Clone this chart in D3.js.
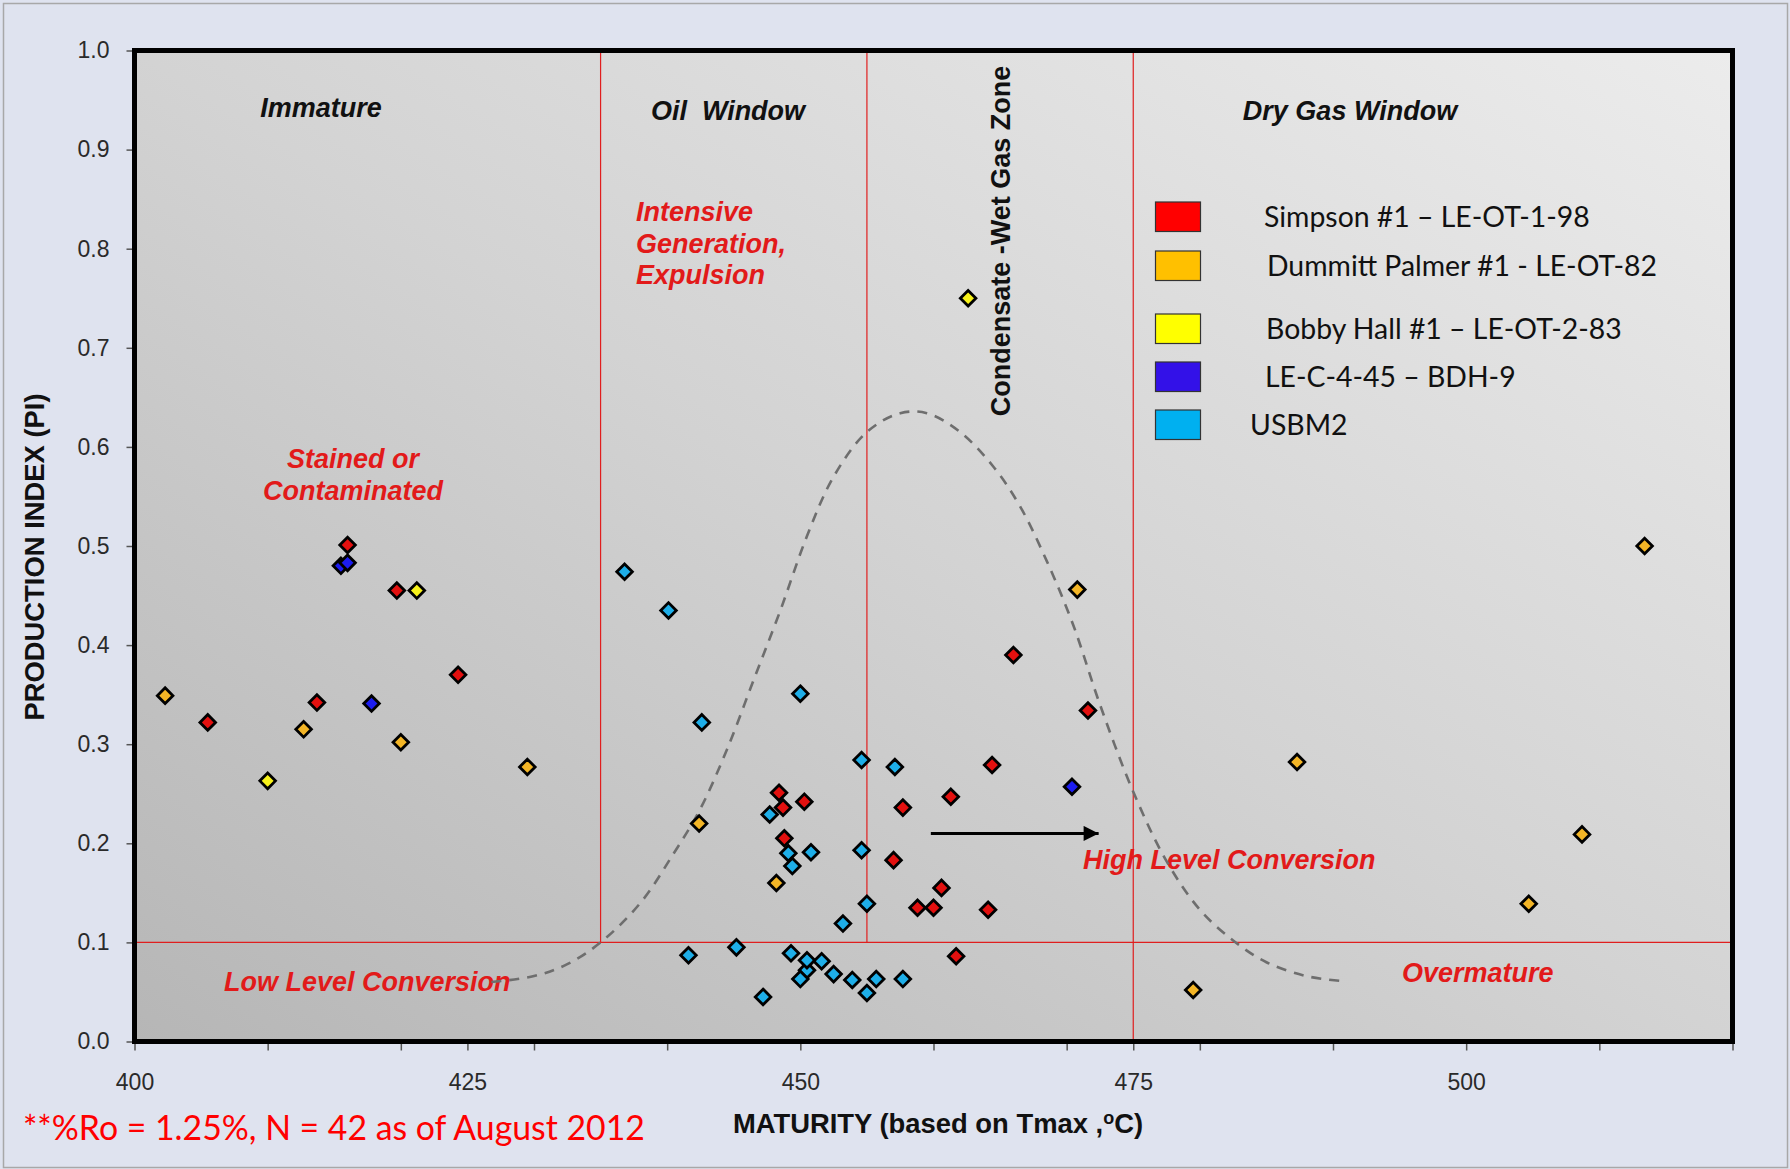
<!DOCTYPE html>
<html>
<head>
<meta charset="utf-8">
<script src="https://cdn.jsdelivr.net/npm/d3@7"></script>
<style>
  html, body { margin: 0; padding: 0; background: #dfe3ef; }
  svg { display: block; }
</style>
</head>
<body>
<script>
// ---------------- DATA ----------------
const seriesNames = ["Simpson #1 \u2013 LE-OT-1-98", "Dummitt Palmer #1 - LE-OT-82", "Bobby Hall #1 \u2013 LE-OT-2-83", "LE-C-4-45 \u2013 BDH-9", "USBM2"];

// [Tmax (°C), Production Index]
const simpson = [[405.5,0.322],[413.7,0.342],[416.0,0.501],[419.7,0.455],[424.3,0.370],[448.4,0.251],[448.7,0.236],[450.3,0.242],[448.8,0.205],[457.0,0.183],[457.7,0.236],[461.3,0.247],[460.6,0.155],[458.8,0.135],[460.0,0.135],[464.1,0.133],[461.7,0.086],[464.4,0.279],[466.0,0.390],[471.6,0.334]];
const dummitt = [[402.3,0.349],[412.7,0.315],[420.0,0.302],[429.5,0.277],[442.4,0.220],[448.2,0.160],[470.8,0.456],[479.5,0.052],[487.3,0.282],[504.7,0.139],[508.7,0.209],[513.4,0.500]];
const bobby = [[410.0,0.263],[421.2,0.455],[462.6,0.750]];
const lec = [[415.5,0.480],[416.0,0.483],[417.8,0.341],[470.4,0.257]];
const usbm2 = [[436.8,0.474],[440.1,0.435],[442.6,0.322],[450.0,0.351],[454.6,0.284],[457.1,0.277],[447.7,0.229],[449.1,0.190],[450.8,0.191],[454.6,0.193],[449.4,0.177],[455.0,0.139],[453.2,0.119],[441.6,0.087],[445.2,0.095],[450.5,0.072],[449.3,0.089],[450.5,0.082],[451.6,0.081],[450.0,0.063],[452.5,0.068],[453.9,0.062],[455.7,0.063],[455.0,0.049],[457.7,0.063],[447.2,0.045]];

// dashed generation envelope
const envelope = [[426.8,0.060],[430.0,0.066],[432.5,0.078],[435.0,0.100],[438.0,0.140],[440.5,0.190],[442.5,0.235],[444.5,0.295],[446.5,0.365],[448.5,0.435],[450.5,0.510],[452.5,0.570],[455.0,0.615],[457.5,0.634],[459.5,0.634],[462.0,0.615],[464.5,0.580],[466.5,0.540],[468.5,0.485],[470.5,0.420],[472.5,0.340],[475.0,0.252],[477.5,0.182],[480.0,0.133],[482.5,0.102],[485.0,0.080],[488.0,0.066],[490.7,0.061]];

// zone boundaries
const zoneLinesToPI = [435, 455];   // vertical lines from top down to PI = 0.1
const zoneLinesFull = [475];        // vertical line spanning full height
const piLimit = 0.1;
const arrow = {x0: 459.8, x1: 472.4, pi: 0.21};

const xTicks = [400,410,420,425,430,440,450,460,470,475,480,490,500,510,520];
const xLabels = [400,425,450,475,500];
const yTicks = [0,0.1,0.2,0.3,0.4,0.5,0.6,0.7,0.8,0.9,1.0];

// ---------------- LAYOUT ----------------
const W = 1790, H = 1169;
const L = 134.5, R = 1732.5, T = 50.5, B = 1041.5;

const x = d3.scaleLinear().domain([400,520]).range([L,R]);
const y = d3.scaleLinear().domain([0,1]).range([B,T]);

const svg = d3.select("body").append("svg").attr("width", W).attr("height", H);

const defs = svg.append("defs");
const grad = defs.append("linearGradient").attr("id","plotbg")
  .attr("x1",0).attr("y1",1).attr("x2",1).attr("y2",0);
grad.append("stop").attr("offset","0%").attr("stop-color","#b6b6b6");
grad.append("stop").attr("offset","50%").attr("stop-color","#d3d3d3");
grad.append("stop").attr("offset","100%").attr("stop-color","#ececec");

// page background & frame
svg.append("rect").attr("x",0).attr("y",0).attr("width",W).attr("height",H).attr("fill","#dfe3ef");
svg.append("rect").attr("x",3.5).attr("y",3.5).attr("width",W-6).attr("height",H-5)
  .attr("fill","none").attr("stroke","#a8a8a8").attr("stroke-width",1.5);

// plot area fill
svg.append("rect").attr("x",L).attr("y",T).attr("width",R-L).attr("height",B-T).attr("fill","url(#plotbg)");

// axes
const arial = "'Liberation Sans', Arial, sans-serif";
const xAxis = svg.append("g").attr("transform",`translate(0,${B})`)
  .call(d3.axisBottom(x).tickValues(xTicks).tickFormat(d => xLabels.includes(d) ? d : "").tickSize(9).tickPadding(23));
const yAxis = svg.append("g").attr("transform",`translate(${L},0)`)
  .call(d3.axisLeft(y).tickValues(yTicks).tickFormat(d3.format(".1f")).tickSize(8).tickPadding(17));
[xAxis, yAxis].forEach(g => {
  g.select(".domain").remove();
  g.selectAll(".tick line").attr("stroke","#555").attr("stroke-width",1.5);
  g.selectAll(".tick text").attr("font-family",arial).attr("font-size",23).attr("fill","#2a2a2a");
});

// zone lines
const red = "#e01e1e";
const zl = svg.append("g").attr("stroke",red).attr("stroke-width",1.2);
zl.selectAll("line.a").data(zoneLinesToPI).join("line")
  .attr("x1",d=>x(d)).attr("x2",d=>x(d)).attr("y1",y(1)).attr("y2",y(piLimit));
zl.selectAll("line.b").data(zoneLinesFull).join("line")
  .attr("x1",d=>x(d)).attr("x2",d=>x(d)).attr("y1",y(1)).attr("y2",y(0));
zl.append("line").attr("x1",x(400)).attr("x2",x(520)).attr("y1",y(piLimit)).attr("y2",y(piLimit));

// region labels (black)
const lbl = (t, px, py, opts={}) => {
  const e = svg.append("text").attr("x",px).attr("y",py).text(t)
    .attr("font-family",arial).attr("font-weight","bold")
    .attr("font-style", opts.italic === false ? "normal" : "italic")
    .attr("font-size", opts.size || 27)
    .attr("fill", opts.fill || "#111")
    .attr("text-anchor", opts.anchor || "start")
    .style("white-space","pre");
  return e;
};
lbl("Immature", 321, 117, {anchor:"middle"});
lbl("Oil\u00a0 Window", 728, 120, {anchor:"middle"});
lbl("Dry Gas Window", 1350, 120, {anchor:"middle"});
svg.append("text").attr("transform","translate(1010,241) rotate(-90)")
  .attr("text-anchor","middle").attr("font-family",arial).attr("font-weight","bold")
  .attr("font-size",27).attr("fill","#111").text("Condensate -Wet Gas Zone");

// red annotations
const rc = "#e21a1a";
lbl("Intensive", 636, 221, {fill:rc, size:27});
lbl("Generation,", 636, 253, {fill:rc, size:27});
lbl("Expulsion", 636, 284, {fill:rc, size:27});
lbl("Stained or", 353, 468, {fill:rc, size:27, anchor:"middle"});
lbl("Contaminated", 353, 500, {fill:rc, size:27, anchor:"middle"});
lbl("Low Level Conversion", 224, 991, {fill:rc, size:27});
lbl("High Level Conversion", 1083, 869, {fill:rc, size:27});
lbl("Overmature", 1402, 982, {fill:rc, size:27});

// dashed envelope
svg.append("path").datum(envelope)
  .attr("d", d3.line().x(d=>x(d[0])).y(d=>y(d[1])).curve(d3.curveCatmullRom))
  .attr("fill","none").attr("stroke","#6e6e6e").attr("stroke-width",2.6).attr("stroke-dasharray","10,8");

// arrow
defs.append("marker").attr("id","ah").attr("viewBox","0 0 10 10").attr("refX",10).attr("refY",5)
  .attr("markerWidth",6).attr("markerHeight",5).attr("markerUnits","strokeWidth").attr("orient","auto")
  .append("path").attr("d","M0,0 L10,5 L0,10 Z").attr("fill","#000");
svg.append("line").attr("x1",x(arrow.x0)).attr("x2",x(arrow.x1)).attr("y1",y(arrow.pi)).attr("y2",y(arrow.pi))
  .attr("stroke","#000").attr("stroke-width",3).attr("marker-end","url(#ah)");

// points
const diamond = s => `M0,${-s} L${s},0 L0,${s} L${-s},0 Z`;
const layers = [
  {data: usbm2, fill: "#1eaee8"},
  {data: simpson, fill: "#e3100f"},
  {data: dummitt, fill: "#f3b526"},
  {data: bobby, fill: "#f7f21a"},
  {data: lec, fill: "#1c1cf0"}
];
layers.forEach(l => {
  svg.append("g").selectAll("path").data(l.data).join("path")
    .attr("transform", d => `translate(${x(d[0])},${y(d[1])})`)
    .attr("d", diamond(7.8))
    .attr("fill", l.fill).attr("stroke","#000").attr("stroke-width",2.8).attr("stroke-linejoin","miter");
});

// plot border
svg.append("rect").attr("x",L).attr("y",T).attr("width",R-L).attr("height",B-T)
  .attr("fill","none").attr("stroke","#000").attr("stroke-width",5);

// legend
const legendColors = ["#ff0000","#ffc000","#ffff00","#3311e8","#00b0f0"];
const legendTops = [202, 251, 314, 362, 410];
const legendTextX = [1264, 1267, 1266, 1265, 1250];
const calibri = "Lato, 'Open Sans', sans-serif";
const lg = svg.append("g");
seriesNames.forEach((n,i) => {
  lg.append("rect").attr("x",1155.5).attr("y",legendTops[i]).attr("width",45).attr("height",29.5)
    .attr("fill",legendColors[i]).attr("stroke","#333").attr("stroke-width",1.2);
  lg.append("text").attr("x",legendTextX[i]).attr("y",legendTops[i]+25).text(n)
    .attr("font-family",calibri).attr("font-size",28.4).attr("fill","#111");
});

// axis titles
svg.append("text").attr("transform","translate(44,557) rotate(-90)")
  .attr("text-anchor","middle").attr("font-family",arial).attr("font-weight","bold")
  .attr("font-size",27.4).attr("fill","#111").text("PRODUCTION INDEX (PI)");
const xt = svg.append("text").attr("x",938).attr("y",1133)
  .attr("text-anchor","middle").attr("font-family",arial).attr("font-weight","bold")
  .attr("font-size",27.4).attr("fill","#111");
xt.append("tspan").text("MATURITY (based on Tmax ,");
xt.append("tspan").attr("font-size",18).attr("dy",-9).text("o");
xt.append("tspan").attr("dy",9).text("C)");

// footnote
svg.append("text").attr("x",23).attr("y",1140).attr("font-family",calibri).attr("font-size",33.8)
  .attr("fill","#ff0000").text("**%Ro = 1.25%, N = 42 as of August 2012");
</script>
</body>
</html>
